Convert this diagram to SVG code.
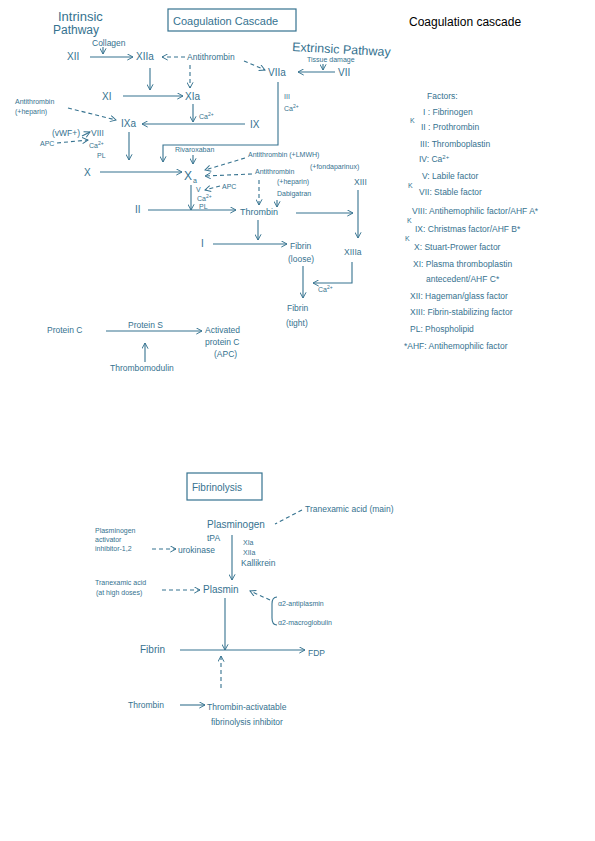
<svg xmlns="http://www.w3.org/2000/svg" width="595" height="841" viewBox="0 0 595 841">
<style>
text{font-family:"Liberation Sans",Arial,sans-serif;fill:#35728f}
.s{font-size:7px}.m{font-size:8.5px}.n{font-size:10px}.l{font-size:13px}
.c{stroke:#35728f;stroke-width:1.1;fill:none}
.d{stroke-dasharray:4 3}
.box{stroke:#35728f;stroke-width:1.2;fill:none}
</style>
<defs>
<marker id="a" viewBox="0 0 8 8" refX="7" refY="4" markerWidth="7" markerHeight="7" orient="auto" markerUnits="userSpaceOnUse">
<path d="M0.5,0.5 L7,4 L0.5,7.5" fill="none" stroke="#35728f" stroke-width="1.1"/>
</marker>
</defs>
<rect width="595" height="841" fill="#ffffff"/>

<g id="title-print"><text x="409" y="26" style="font-size:12px;fill:#000">Coagulation cascade</text></g>
<g id="title-box"><rect class="box" x="168" y="9" width="128" height="22"/><text x="173" y="25" style="font-size:11px">Coagulation Cascade</text></g>
<g id="intrinsic"><text x="58" y="21" class="l">Intrinsic</text><text x="53" y="34" style="font-size:12px">Pathway</text></g>
<g id="extrinsic"><text x="292" y="51" style="font-size:12.5px" transform="rotate(3 292 51)">Extrinsic Pathway</text></g>

<g id="connectors">
<path class="c" d="M103,47 V54" marker-end="url(#a)"/>
<path class="c" d="M90,57 H133" marker-end="url(#a)"/>
<path class="c d" d="M185,57 H162" marker-end="url(#a)"/>
<path class="c d" d="M244,61 L265,70" marker-end="url(#a)"/>
<path class="c" d="M335,72 H298" marker-end="url(#a)"/>
<path class="c" d="M323,64 V70" marker-end="url(#a)"/>
<path class="c" d="M150,68 V90" marker-end="url(#a)"/>
<path class="c d" d="M190,65 V88" marker-end="url(#a)"/>
<path class="c" d="M123,96 H183" marker-end="url(#a)"/>
<path class="c" d="M193,104 V122" marker-end="url(#a)"/>
<path class="c" d="M245,124 H142" marker-end="url(#a)"/>
<path class="c d" d="M68,108 L116,120" marker-end="url(#a)"/>
<path class="c" d="M278,82 V145 H163 V162" marker-end="url(#a)"/>
<path class="c" d="M129,132 V160" marker-end="url(#a)"/>
<path class="c" d="M82,136 L90,132" marker-end="url(#a)"/>
<path class="c d" d="M57,143 L88,140" marker-end="url(#a)"/>
<path class="c" d="M100,172 H182" marker-end="url(#a)"/>
<path class="c" d="M193,155 V164" marker-end="url(#a)"/>
<path class="c d" d="M245,158 L205,170" marker-end="url(#a)"/>
<path class="c d" d="M252,174 L205,176" marker-end="url(#a)"/>
<path class="c d" d="M220,186 L205,190" marker-end="url(#a)"/>
<path class="c" d="M191,185 V210" marker-end="url(#a)"/>
<path class="c" d="M148,210 H236" marker-end="url(#a)"/>
<path class="c" d="M296,213 H353" marker-end="url(#a)"/>
<path class="c" d="M358,190 V238" marker-end="url(#a)"/>
<path class="c d" d="M259,180 V205" marker-end="url(#a)"/>
<path class="c" d="M277,200 V207" marker-end="url(#a)"/>
<path class="c" d="M258,220 V240" marker-end="url(#a)"/>
<path class="c" d="M213,244 H287" marker-end="url(#a)"/>
<path class="c" d="M352,262 V283 H313" marker-end="url(#a)"/>
<path class="c" d="M303,266 V298" marker-end="url(#a)"/>
<path class="c" d="M106,331 H202" marker-end="url(#a)"/>
<path class="c" d="M145,362 V343" marker-end="url(#a)"/>
<path class="c d" d="M302,510 L275,524"/>
<path class="c d" d="M152,549 H176" marker-end="url(#a)"/>
<path class="c" d="M232,535 V580" marker-end="url(#a)"/>
<path class="c d" d="M162,590 H200" marker-end="url(#a)"/>
<path class="c d" d="M270,600 L250,591" marker-end="url(#a)"/>
<path class="c" d="M225,598 V650" marker-end="url(#a)"/>
<path class="c" d="M180,650 H305" marker-end="url(#a)"/>
<path class="c d" d="M221,688 V656" marker-end="url(#a)"/>
<path class="c" d="M180,705 H205" marker-end="url(#a)"/>
<path class="c" d="M277,597 Q272,597 272,604 V618 Q272,625 277,625"/>
</g>

<g id="collagen"><text x="92" y="46" class="m">Collagen</text></g>
<g id="xii"><text x="67" y="60" class="n">XII</text></g>
<g id="xiia"><text x="136" y="60" class="n">XIIa</text></g>
<g id="antithrombin1"><text x="187" y="60" class="m">Antithrombin</text></g>
<g id="viia"><text x="268" y="76" class="n">VIIa</text></g>
<g id="vii"><text x="338" y="76" class="n">VII</text></g>
<g id="tissue"><text x="307" y="62" class="s">Tissue damage</text></g>
<g id="xi"><text x="102" y="100" class="n">XI</text></g>
<g id="xia"><text x="185" y="100" class="n">XIa</text></g>
<g id="ca1"><text x="199" y="119" class="s">Ca<tspan dy="-3" style="font-size:5px">2+</tspan></text></g>
<g id="ix"><text x="250" y="128" class="n">IX</text></g>
<g id="ixa"><text x="121" y="127" class="n">IXa</text></g>
<g id="antithrombin2"><text x="15" y="104" class="s">Antithrombin</text><text x="15" y="114" class="s">(+heparin)</text></g>
<g id="iii"><text x="284" y="99" class="s">III</text><text x="284" y="111" class="s">Ca<tspan dy="-3" style="font-size:5px">2+</tspan></text></g>
<g id="viii"><text x="52" y="136" class="m">(vWF+)</text><text x="91" y="136" class="m">VIII</text><text x="89" y="148" class="s">Ca<tspan dy="-3" style="font-size:5px">2+</tspan></text><text x="97" y="158" class="s">PL</text></g>
<g id="apc1"><text x="40" y="146" class="s">APC</text></g>
<g id="x"><text x="84" y="176" class="n">X</text></g>
<g id="xa"><text x="184" y="180" style="font-size:12px">X</text><text x="193" y="183" class="s">a</text></g>
<g id="rivaroxaban"><text x="175" y="152" class="s">Rivaroxaban</text></g>
<g id="at-lmwh"><text x="248" y="157" class="s">Antithrombin (+LMWH)</text><text x="310" y="169" class="s">(+fondaparinux)</text></g>
<g id="at-heparin"><text x="255" y="174" class="s">Antithrombin</text><text x="277" y="184" class="s">(+heparin)</text></g>
<g id="dabigatran"><text x="277" y="196" class="s">Dabigatran</text></g>
<g id="apc2"><text x="222" y="189" class="s">APC</text></g>
<g id="xa-cof"><text x="196" y="192" class="s">V</text><text x="197" y="201" class="s">Ca<tspan dy="-3" style="font-size:5px">2+</tspan></text><text x="199" y="209" class="s">PL</text></g>
<g id="ii"><text x="135" y="213" class="n">II</text></g>
<g id="thrombin"><text x="240" y="215" style="font-size:9px">Thrombin</text></g>
<g id="xiii"><text x="354" y="185" class="m">XIII</text></g>
<g id="i"><text x="201" y="247" class="n">I</text></g>
<g id="fibrin-loose"><text x="290" y="249" class="m">Fibrin</text><text x="288" y="262" class="m">(loose)</text></g>
<g id="xiiia"><text x="344" y="255" class="m">XIIIa</text></g>
<g id="ca3"><text x="318" y="292" class="s">Ca<tspan dy="-3" style="font-size:5px">2+</tspan></text></g>
<g id="fibrin-tight"><text x="287" y="311" class="m">Fibrin</text><text x="286" y="326" class="m">(tight)</text></g>

<g id="protein-c"><text x="47" y="333" class="m">Protein C</text></g>
<g id="protein-s"><text x="128" y="328" class="m">Protein S</text></g>
<g id="apc"><text x="205" y="333" class="m">Activated</text><text x="205" y="345" class="m">protein C</text><text x="214" y="357" class="m">(APC)</text></g>
<g id="thrombomodulin"><text x="110" y="371" class="m">Thrombomodulin</text></g>

<g id="factors">
<text x="427" y="99" class="m">Factors:</text>
<text x="423" y="115" class="m">I : Fibrinogen</text>
<text x="410" y="123" class="s">K</text><text x="421" y="130" class="m">II : Prothrombin</text>
<text x="420" y="147" class="m">III: Thromboplastin</text>
<text x="419" y="162" class="m">IV: Ca<tspan dy="-3" style="font-size:6px">2+</tspan></text>
<text x="422" y="179" class="m">V: Labile factor</text>
<text x="408" y="188" class="s">K</text><text x="419" y="195" class="m">VII: Stable factor</text>
<text x="412" y="214" class="m">VIII: Antihemophilic factor/AHF A*</text>
<text x="407" y="223" class="s">K</text><text x="415" y="232" class="m">IX: Christmas factor/AHF B*</text>
<text x="405" y="241" class="s">K</text><text x="414" y="250" class="m">X: Stuart-Prower factor</text>
<text x="413" y="267" class="m">XI: Plasma thromboplastin</text>
<text x="426" y="282" class="m">antecedent/AHF C*</text>
<text x="410" y="299" class="m">XII: Hageman/glass factor</text>
<text x="410" y="315" class="m">XIII: Fibrin-stabilizing factor</text>
<text x="410" y="332" class="m">PL: Phospholipid</text>
<text x="404" y="349" class="m">*AHF: Antihemophilic factor</text>
</g>

<g id="fibrinolysis-box"><rect class="box" x="187" y="473" width="75" height="27"/><text x="192" y="491" class="n">Fibrinolysis</text></g>
<g id="txa-main"><text x="305" y="512" class="m">Tranexamic acid (main)</text></g>
<g id="plasminogen"><text x="207" y="528" class="n">Plasminogen</text></g>
<g id="pai"><text x="95" y="533" class="s">Plasminogen</text><text x="95" y="542" class="s">activator</text><text x="95" y="551" class="s">inhibitor-1,2</text></g>
<g id="tpa"><text x="207" y="541" class="m">tPA</text><text x="178" y="553" class="m">urokinase</text></g>
<g id="activators"><text x="243" y="545" class="s">XIa</text><text x="243" y="555" class="s">XIIa</text><text x="241" y="566" class="m">Kallikrein</text></g>
<g id="txa-high"><text x="95" y="585" class="s">Tranexamic acid</text><text x="96" y="595" class="s">(at high doses)</text></g>
<g id="plasmin"><text x="203" y="593" class="n">Plasmin</text></g>
<g id="inhibitors"><text x="278" y="606" class="s">α2-antiplasmin</text><text x="278" y="625" class="s">α2-macroglobulin</text></g>
<g id="fibrin2"><text x="140" y="653" class="n">Fibrin</text></g>
<g id="fdp"><text x="308" y="656" class="m">FDP</text></g>
<g id="thrombin2"><text x="128" y="708" class="m">Thrombin</text></g>
<g id="tafi"><text x="207" y="710" class="m">Thrombin-activatable</text><text x="211" y="725" class="m">fibrinolysis inhibitor</text></g>
</svg>
